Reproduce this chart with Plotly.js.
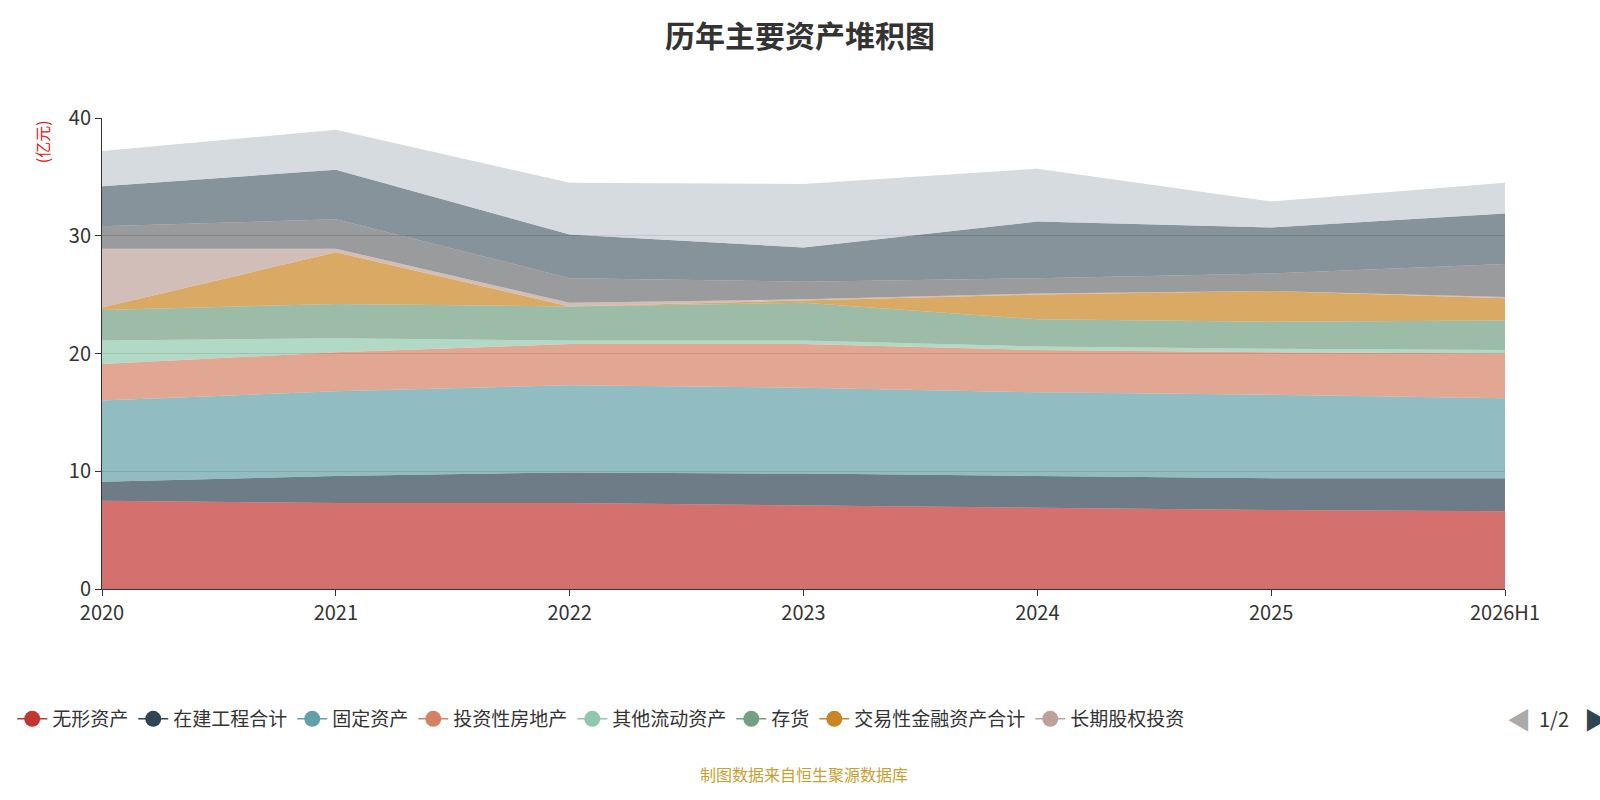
<!DOCTYPE html>
<html><head><meta charset="utf-8">
<script src="https://cdn.plot.ly/plotly-3.0.1.min.js"></script>
<style>body{margin:0}#c{width:1600px;height:800px}</style></head>
<body><div id="c"></div>
<script>
const years = ['2020','2021','2022','2023','2024','2025','2026H1'];
const names = ['无形资产','在建工程合计','固定资产','投资性房地产','其他流动资产','存货','交易性金融资产合计','长期股权投资','应收账款','货币资金','其他'];
const colors = ['#c23531','#2f4554','#61a0a8','#d48265','#91c7ae','#749f83','#ca8622','#bda29a','#6e7074','#546570','#c4ccd3'];
const s0 = [7.5,7.3,7.3,7.1,6.9,6.7,6.6];
const s1 = [1.6,2.3,2.6,2.7,2.7,2.7,2.8];
const s2 = [6.9,7.2,7.4,7.3,7.1,7.1,6.8];
const s3 = [3.1,3.3,3.5,3.7,3.6,3.6,3.8];
const s4 = [2.0,1.2,0.3,0.3,0.3,0.3,0.3];
const s5 = [2.6,2.9,2.9,3.2,2.3,2.3,2.5];
const s6 = [0.2,4.4,0.0,0.2,2.1,2.6,1.9];
const s7 = [5.0,0.3,0.3,0.1,0.1,0.0,0.1];
const s8 = [1.9,2.5,2.1,1.5,1.3,1.5,2.8];
const s9 = [3.4,4.2,3.7,2.9,4.8,3.9,4.3];
const s10 = [3.0,3.4,4.4,5.4,4.5,2.2,2.6];
const series = [s0,s1,s2,s3,s4,s5,s6,s7,s8,s9,s10];
function rgba(h,a){const n=parseInt(h.slice(1),16);return `rgba(${n>>16},${(n>>8)&255},${n&255},${a})`;}
const traces = [];
series.forEach((s,i)=>{
  traces.push({x:years,y:s,name:names[i],type:'scatter',mode:'lines',stackgroup:'one',
    line:{width:0,color:colors[i]},fillcolor:rgba(colors[i],0.7),showlegend:false,hoverinfo:'x+y+name'});
});
for(let i=0;i<8;i++){
  traces.push({x:[null],y:[null],name:names[i],type:'scatter',mode:'lines+markers',
    line:{color:colors[i],width:1.5},marker:{size:20,color:colors[i]},showlegend:true,hoverinfo:'skip'});
}
const layout = {
  width:1600,height:800,margin:{l:91,r:95,t:118,b:211},
  paper_bgcolor:'#fff',plot_bgcolor:'rgba(0,0,0,0)',
  font:{family:'"Noto Sans CJK SC", "Noto Sans", sans-serif',color:'#333'},
  title:{text:'<b>历年主要资产堆积图</b>',x:0.5,y:0.968,xanchor:'center',font:{size:30,color:'#333'}},
  xaxis:{type:'category',range:[0,6],automargin:false,showgrid:false,showline:true,linecolor:'#333',ticks:'outside',ticklen:6,tickcolor:'#333',tickfont:{size:20,color:'#333'}},
  yaxis:{range:[0,40],dtick:10,automargin:false,showline:true,linecolor:'#333',ticks:'outside',ticklen:6,tickcolor:'#333',gridcolor:'#bbb',zeroline:false,tickfont:{size:20,color:'#333'},layer:'above traces'},
  showlegend:true,
  legend:{orientation:'h',x:-0.064,xanchor:'left',y:-0.276,yanchor:'middle',font:{size:19,color:'#333'},traceorder:'normal'},
  annotations:[
    {text:'(亿元)',xref:'paper',yref:'paper',x:-0.043,y:1.0,xanchor:'center',yanchor:'top',textangle:-90,showarrow:false,font:{size:16,color:'#e02020'}},
    {text:'制图数据来自恒生聚源数据库',xref:'paper',yref:'paper',x:0.5,xanchor:'center',y:-0.393,yanchor:'middle',showarrow:false,font:{size:16,color:'#c8a030'}},
    {text:'◀',xref:'paper',yref:'paper',x:1.0,y:-0.276,xanchor:'left',yanchor:'middle',showarrow:false,font:{size:24,color:'#aaa'}},
    {text:'1/2',xref:'paper',yref:'paper',x:1.023,y:-0.276,xanchor:'left',yanchor:'middle',showarrow:false,font:{size:20,color:'#333'}},
    {text:'▶',xref:'paper',yref:'paper',x:1.055,y:-0.276,xanchor:'left',yanchor:'middle',showarrow:false,font:{size:24,color:'#2f4554'}}
  ]
};
Plotly.newPlot('c',traces,layout,{displayModeBar:false});
</script></body></html>
